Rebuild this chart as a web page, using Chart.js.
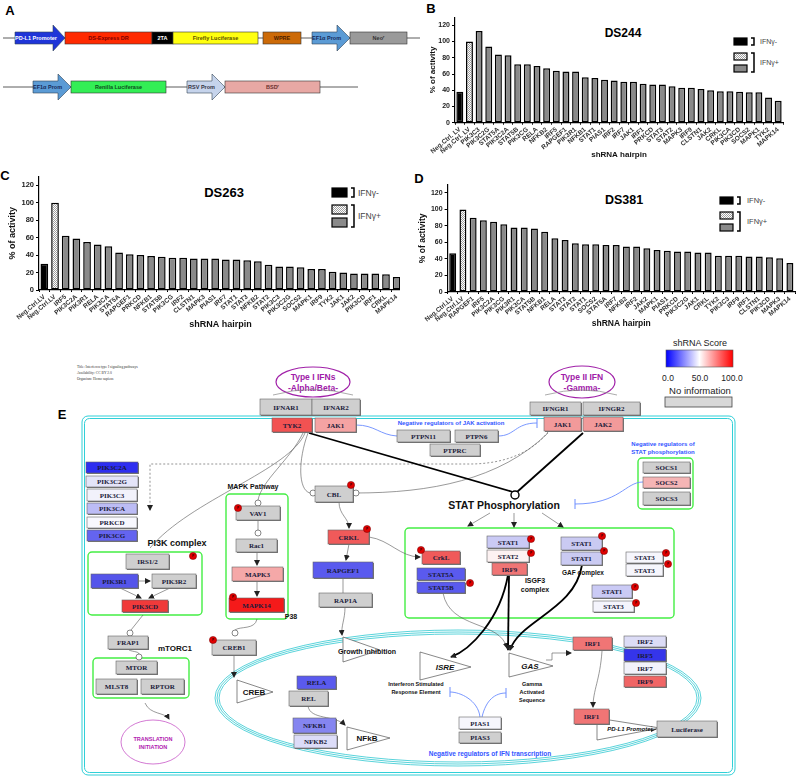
<!DOCTYPE html>
<html>
<head>
<meta charset="utf-8">
<script src="https://cdn.jsdelivr.net/npm/chart.js@4.4.0/dist/chart.umd.min.js"></script>
<style>
  body { margin: 0; width: 800px; height: 779px; position: relative; overflow: hidden; background: #fff; }
  .abs { position: absolute; }
</style>
</head>
<body>
<svg id="fig" class="abs" style="left:0;top:0" width="800" height="779"></svg>
<div class="abs" style="left:400px;top:0;width:400px;height:165px"><canvas id="chartB" width="400" height="165"></canvas></div>
<div class="abs" style="left:0;top:170px;width:400px;height:160px;overflow:hidden"><canvas id="chartC" width="404" height="160"></canvas></div>
<div class="abs" style="left:400px;top:170px;width:400px;height:160px"><canvas id="chartD" width="400" height="160"></canvas></div>
<script>
'use strict';

// ---- chart data ----
var labelsB = ['Neg.Ctrl. LV', 'Neg.Ctrl. LV', 'PIK3C3', 'PIK3C2G', 'STAT5A', 'PIK3C2A', 'STAT5B', 'PIK3CG',
  'RELA', 'NFKB2', 'IRF5', 'RAPGEF1', 'PIK3R1', 'NFKB1', 'STAT1', 'PIAS1', 'IRF2', 'IRF7', 'JAK1', 'IRF1',
  'PRKCD', 'STAT3', 'STAT2', 'MAPK3', 'IRF9', 'CLSTN1', 'JAK2', 'CRKL', 'PIK3CA', 'PIK3CD', 'SOCS2',
  'MAPK1', 'TYK2', 'MAPK14'];
var valuesB = [38, 100, 113, 94, 84, 83, 72, 72, 70, 67, 64, 63, 63, 56, 55, 53, 52, 50.5, 50.5, 48,
  47, 47, 45, 43, 43, 41.5, 40, 38.6, 38.6, 38, 37.5, 37.5, 31, 27];

var labelsC = ['Neg.Ctrl.LV', 'Neg.Ctrl.LV', 'IRF5', 'PIK3C2A', 'PIK3R1', 'RELA', 'PIK3CA', 'STAT5A',
  'RAPGEF1', 'PRKCD', 'NFKB1', 'STAT5B', 'PIK3CG', 'IRF2', 'CLSTN1', 'MAPK3', 'PIAS1', 'IRF7', 'STAT1',
  'STAT3', 'NFKB2', 'STAT2', 'PIK3C3', 'PIK3C2G', 'SOCS2', 'MAPK1', 'IRF9', 'TYK2', 'JAK1', 'JAK2',
  'PIK3CD', 'IRF1', 'CRKL', 'MAPK14'];
var valuesC = [30, 100, 62, 59, 55, 52, 50, 43, 41, 40, 39, 38, 37, 37, 36, 36, 36, 35, 35, 34, 33,
  29, 27, 27, 26, 24, 24, 21, 20, 19, 19, 19, 18, 15];

var labelsD = ['Neg.Ctrl.LV', 'Neg.Ctrl.LV', 'RAPGEF1', 'IRF5', 'PIK3C2A', 'PIK3CG', 'PIK3R1', 'PIK3CA',
  'STAT5B', 'NFKB1', 'RELA', 'STAT3', 'STAT2', 'STAT1', 'SOCS2', 'STAT5A', 'IRF7', 'NFKB2', 'IRF2',
  'JAK2', 'MAPK1', 'PIAS1', 'PRKCD', 'PIK3C2G', 'JAK1', 'CRKL', 'TYK2', 'PIK3C3', 'IRF9', 'IRF1',
  'CLSTN1', 'PIK3CD', 'MAPK3', 'MAPK14'];
var valuesD = [47, 100, 90, 87, 85, 82, 78, 78, 77, 73, 65, 63, 59, 58, 58, 57, 57, 55, 55, 53, 51,
  50, 49, 49, 48, 48, 44, 44, 44, 43, 43, 42, 41, 35];

var yMin = 0, yMax = 130, yStep = 20;

Chart.defaults.font.family = 'Arial, "Liberation Sans", sans-serif';

var checkerFor = function(ctx) {
  var pc = document.createElement('canvas');
  pc.width = 2; pc.height = 2;
  var p = pc.getContext('2d');
  p.fillStyle = '#fff'; p.fillRect(0, 0, 2, 2);
  p.fillStyle = '#a0a0a0'; p.fillRect(0, 0, 1, 1); p.fillRect(1, 1, 1, 1);
  return ctx.createPattern(pc, 'repeat');
};

var buildChart = function(id, labels, values, cfg) {
  var ctx = document.getElementById(id).getContext('2d');
  var checker = checkerFor(ctx);
  var colours = labels.map(function(l, i) {
    return i === 0 ? '#000' : (i === 1 ? checker : '#8a8a8a');
  });
  return new Chart(ctx, {
    type: 'bar',
    data: {
      labels: labels,
      datasets: [{
        data: values,
        backgroundColor: colours,
        borderColor: '#000',
        borderWidth: 1.5,
        borderSkipped: false,
        barPercentage: cfg.barPct,
        categoryPercentage: 1
      }]
    },
    options: {
      responsive: false,
      animation: false,
      layout: { padding: { top: cfg.top, right: cfg.right, bottom: 0, left: 0 } },
      plugins: { legend: { display: false }, tooltip: { enabled: false } },
      scales: {
        x: {
          grid: { display: true, drawOnChartArea: false, color: '#000', tickLength: 2 },
          border: { color: '#000', width: 1.2 },
          ticks: { autoSkip: false, minRotation: 40, maxRotation: 40, padding: 1, color: '#333',
                   font: { size: 6.5, weight: 'bold' } },
          title: { display: true, text: 'shRNA hairpin', color: '#111',
                   font: { size: cfg.axisFont, weight: 'bold' }, padding: { top: 0, bottom: cfg.xTitlePad } },
          afterFit: function(s) { s.height = cfg.xHeight; }
        },
        y: {
          min: yMin, max: yMax,
          grid: { display: true, drawOnChartArea: false, color: '#000', tickLength: 3 },
          border: { color: '#000', width: 1.2 },
          ticks: { stepSize: yStep, includeBounds: false, padding: 2, color: '#222',
                   font: { size: cfg.tickFont, weight: 'bold' } },
          title: { display: true, text: '% of activity', color: '#111',
                   font: { size: cfg.axisFont, weight: 'bold' }, padding: { top: cfg.yTitlePad, bottom: 0 } },
          afterFit: function(s) { s.width = cfg.yWidth; }
        }
      }
    }
  });
};

buildChart('chartB', labelsB, valuesB, { top: 17.2, right: 17, xHeight: 42.3, yWidth: 55, xTitlePad: 5,
  yTitlePad: 28, axisFont: 8, tickFont: 7, barPct: 0.72 });
buildChart('chartC', labelsC, valuesC, { top: 5.2, right: 2, xHeight: 40, yWidth: 39, xTitlePad: 0,
  yTitlePad: 7, axisFont: 9, tickFont: 7.5, barPct: 0.72 });
buildChart('chartD', labelsD, valuesD, { top: 14.7, right: 5, xHeight: 38, yWidth: 47.6, xTitlePad: 1,
  yTitlePad: 18, axisFont: 8.5, tickFont: 7, barPct: 0.68 });

// ---- drawing helpers for the schematic panels ----
var svg = document.getElementById('fig');
var NS = 'http://www.w3.org/2000/svg';
var SANS = 'Arial, "Liberation Sans", sans-serif';
var SERIF = '"Liberation Serif", "DejaVu Serif", serif';

var el = function(tag, attrs, txt, parent) {
  var e = document.createElementNS(NS, tag);
  for (var k in attrs) e.setAttribute(k, attrs[k]);
  if (txt != null) e.textContent = txt;
  (parent || svg).appendChild(e);
  return e;
};
var text = function(x, y, s, size, opt) {
  opt = opt || {};
  return el('text', { x: x, y: y, 'font-size': size, 'font-family': opt.serif ? SERIF : SANS,
    'font-weight': opt.weight || 'bold', 'font-style': opt.italic ? 'italic' : 'normal',
    fill: opt.fill || '#000', 'text-anchor': opt.anchor || 'middle', 'dominant-baseline': 'central' }, s);
};

var defs = el('defs', {});
var pat = el('pattern', { id: 'chk', width: 2, height: 2, patternUnits: 'userSpaceOnUse' }, null, defs);
el('rect', { width: 2, height: 2, fill: '#fff' }, null, pat);
el('rect', { width: 1, height: 1, fill: '#a0a0a0' }, null, pat);
el('rect', { x: 1, y: 1, width: 1, height: 1, fill: '#a0a0a0' }, null, pat);
var grad = el('linearGradient', { id: 'score' }, null, defs);
el('stop', { offset: '0', 'stop-color': '#0000ff' }, null, grad);
el('stop', { offset: '0.5', 'stop-color': '#ffffff' }, null, grad);
el('stop', { offset: '1', 'stop-color': '#ff0000' }, null, grad);
var mk = el('marker', { id: 'arr', markerWidth: 6, markerHeight: 6, refX: 5, refY: 3, orient: 'auto',
  markerUnits: 'userSpaceOnUse' }, null, defs);
el('path', { d: 'M0,0 L6,3 L0,6 z', fill: '#222' }, null, mk);

// panel letters
text(10, 10, 'A', 13);
text(431, 8, 'B', 13);
text(5, 175, 'C', 13);
text(419, 178, 'D', 13);
text(62, 414, 'E', 13);

// chart titles and bracket legends
text(623, 33, 'DS244', 12);
text(224, 192, 'DS263', 13);
text(624, 200, 'DS381', 12.5);

var legend = function(x, y, w, h, g1, g2, tx, fs) {
  el('rect', { x: x, y: y, width: w, height: h, fill: '#000', stroke: '#000', 'stroke-width': 1.2 });
  el('rect', { x: x, y: y + g1, width: w, height: h, fill: 'url(#chk)', stroke: '#000', 'stroke-width': 1.2 });
  el('rect', { x: x, y: y + g2, width: w, height: h, fill: '#8a8a8a', stroke: '#000', 'stroke-width': 1.2 });
  var bx = x + w + 4;
  el('path', { d: 'M' + bx + ',' + y + ' h3 v' + h + ' h-3', fill: 'none', stroke: '#000', 'stroke-width': 1.5 });
  el('path', { d: 'M' + bx + ',' + (y + g1) + ' h3 v' + (g2 + h - g1) + ' h-3', fill: 'none', stroke: '#000', 'stroke-width': 1.5 });
  text(tx, y + h / 2, 'IFNγ-', fs, { weight: 'normal', fill: '#444', anchor: 'start' });
  text(tx, y + (g1 + g2 + h) / 2, 'IFNγ+', fs, { weight: 'normal', fill: '#444', anchor: 'start' });
};
legend(734, 38, 13, 7, 15, 27, 760, 7);
legend(332, 188, 15, 9, 17, 30, 358, 8.5);
legend(720, 197, 13, 7, 15, 27, 747, 7.5);

// ---- panel A: constructs ----
el('line', { x1: 3, y1: 38, x2: 420, y2: 38, stroke: '#333', 'stroke-width': 0.8 });
el('line', { x1: 3, y1: 87, x2: 358, y2: 87, stroke: '#333', 'stroke-width': 0.8 });
var promoter = function(x1, xh, x2, yc, fill, label, tcol) {
  el('path', { d: 'M' + x1 + ',' + (yc - 6) + ' H' + xh + ' V' + (yc - 13) + ' L' + x2 + ',' + yc + ' L' + xh + ',' +
    (yc + 13) + ' V' + (yc + 6) + ' H' + x1 + ' z', fill: fill, stroke: '#345', 'stroke-width': 0.6 });
  text((x1 + xh) / 2 + 2, yc, label, 5.5, { fill: tcol });
};
var segment = function(x1, x2, yc, fill, label, tcol) {
  el('rect', { x: x1, y: yc - 6, width: x2 - x1, height: 12, fill: fill, stroke: '#333', 'stroke-width': 0.6 });
  text((x1 + x2) / 2, yc, label, 5.5, { fill: tcol });
};
promoter(15, 53, 65, 38, '#1f35d8', 'PD-L1 Promoter', '#fff');
segment(65, 152, 38, '#ff2a00', 'DS-Express DR', '#7a0000');
segment(152, 173, 38, '#000', '2TA', '#fff');
segment(173, 258, 38, '#ffff10', 'Firefly Luciferase', '#5a5000');
segment(263, 301, 38, '#cc6a08', 'WPRE', '#4a2000');
promoter(312, 337, 350, 38, '#5b9bd5', 'EF1α Prom', '#15295a');
segment(350, 407, 38, '#9a9a9a', 'Neoʳ', '#333');
promoter(33, 58, 71, 87, '#5b9bd5', 'EF1α Prom', '#15295a');
segment(71, 166, 87, '#33ee55', 'Renilla Luciferase', '#0d4d1d');
promoter(187, 212, 225, 87, '#c6d4ec', 'RSV Prom', '#334');
segment(225, 320, 87, '#e8a8a4', 'BSDʳ', '#6a3030');

// ---- panel E: pathway ----
text(77, 367, 'Title:   Interferon type I signaling pathways', 3.6, { serif: true, weight: 'normal', anchor: 'start', fill: '#333' });
text(77, 373, 'Availability:   CC BY 2.0', 3.6, { serif: true, weight: 'normal', anchor: 'start', fill: '#333' });
text(77, 379, 'Organism:   Homo sapiens', 3.6, { serif: true, weight: 'normal', anchor: 'start', fill: '#333' });

// score legend
text(700, 343, 'shRNA Score', 9, { weight: 'normal', fill: '#222' });
el('rect', { x: 666, y: 350, width: 67, height: 17, fill: 'url(#score)', stroke: '#555', 'stroke-width': 0.6 });
text(668, 378, '0.0', 8.5, { weight: 'normal', fill: '#222' });
text(700, 378, '50.0', 8.5, { weight: 'normal', fill: '#222' });
text(732, 378, '100.0', 8.5, { weight: 'normal', fill: '#222' });
text(700, 390, 'No information', 9.5, { weight: 'normal', fill: '#222' });
el('rect', { x: 665, y: 397, width: 67, height: 10, fill: '#d8d8d8', stroke: '#444', 'stroke-width': 0.8 });

// cell outline and nucleus
el('rect', { x: 82, y: 416, width: 653, height: 359, rx: 6, fill: 'none', stroke: '#30d0d8', 'stroke-width': 1 });
el('rect', { x: 84.5, y: 418.5, width: 648, height: 354, rx: 5, fill: 'none', stroke: '#30d0d8', 'stroke-width': 1 });
[0, 2, 4].forEach(function(d) {
  el('ellipse', { cx: 458, cy: 698, rx: 243 - d, ry: 68 - d, fill: 'none', stroke: '#30c8d0', 'stroke-width': 0.8 });
});

// ligand ellipses
el('ellipse', { cx: 313, cy: 382, rx: 37, ry: 15, fill: '#fff', stroke: '#a020a8', 'stroke-width': 1.2 });
text(313, 377, 'Type I IFNs', 8.5, { fill: '#a020a8' });
text(313, 388, '-Alpha/Beta-', 8.5, { fill: '#a020a8' });
el('path', { d: 'M273,395 Q313,384 353,395', fill: 'none', stroke: '#888', 'stroke-width': 0.7 });
el('ellipse', { cx: 582, cy: 382, rx: 33, ry: 16, fill: '#fff', stroke: '#a020a8', 'stroke-width': 1.2 });
text(582, 377, 'Type II IFN', 8.5, { fill: '#a020a8' });
text(582, 388, '-Gamma-', 8.5, { fill: '#a020a8' });
el('path', { d: 'M545,395 Q582,385 617,395', fill: 'none', stroke: '#888', 'stroke-width': 0.7 });

// green complexes
[[88, 552, 202, 615], [93, 658, 189, 698], [226, 494, 288, 619], [405, 528, 674, 618], [638, 458, 693, 509]]
  .forEach(function(g) {
    el('rect', { x: g[0], y: g[1], width: g[2] - g[0], height: g[3] - g[1], rx: 4, fill: 'none',
      stroke: '#44ee44', 'stroke-width': 1.4 });
  });

// connectors
var link = function(d, kind, arrow) {
  var st = { thin: ['#555', 0.6, null], thick: ['#000', 1.8, null], blue: ['#6b8cff', 0.9, null],
    dash: ['#666', 0.7, '2,2'] }[kind];
  var a = { d: d, fill: 'none', stroke: st[0], 'stroke-width': st[1] };
  if (st[2]) a['stroke-dasharray'] = st[2];
  if (arrow) a['marker-end'] = 'url(#arr)';
  return el('path', a);
};
var ring = function(x, y) { el('circle', { cx: x, cy: y, r: 3, fill: '#fff', stroke: '#555', 'stroke-width': 0.7 }); };
var bar = function(x, y) { el('line', { x1: x, y1: y - 5, x2: x, y2: y + 5, stroke: '#6b8cff', 'stroke-width': 1 }); };

link('M305,433 C290,470 190,500 150,548', 'thin');
link('M303,433 C290,460 262,480 258,500', 'thin');
link('M308,433 C298,460 298,490 310,493', 'thin');
link('M355,493 C430,493 500,480 548,433', 'thin');
link('M548,432 C530,455 500,464 470,464 L150,464 L150,510', 'dash', true);
link('M309,433 L513,492', 'thick');
link('M583,433 L517,492', 'thick');
el('circle', { cx: 515, cy: 495, r: 4, fill: '#fff', stroke: '#000', 'stroke-width': 1.4 });
link('M356,425 C375,425 380,435 397,436', 'blue');
link('M498,436 C515,436 515,423 537,423', 'blue'); bar(537, 423);
link('M643,482 C625,482 620,504 575,504', 'blue'); bar(575, 504);
link('M490,513 L468,526', 'thin', true);
link('M514,513 L514,527', 'thin', true);
link('M542,513 L563,527', 'thin', true);
link('M443,593 C450,630 500,620 507,648', 'thin', true);
link('M509,575 L508,650', 'thick', true);
link('M508,575 C500,620 470,650 451,657', 'thick', true);
link('M582,565 C575,610 520,620 510,650', 'thick', true);
link('M546,660 L552,660 L552,653 L571,653', 'thin', true);
link('M602,651 C600,680 593,690 593,707', 'thin', true);
link('M640,729 L656,729', 'thin', true);
link('M480,717 C478,700 460,692 450,692', 'blue'); bar(450, 692);
link('M482,717 C486,700 495,693 506,693', 'blue'); bar(506, 693);
link('M339,502 C339,515 349,518 349,528', 'thin', true);
link('M349,544 L346,560', 'thin', true);
link('M343,578 L343,593', 'thin');
link('M345,607 C345,620 341,625 342,635', 'thin', true);
link('M369,537 C390,540 400,557 420,557', 'thin', true);
link('M258,520 L258,530', 'thin'); ring(258, 533);
ring(258, 503); ring(313, 493); ring(356, 493);
link('M257,552 L257,565', 'thin', true);
link('M257,581 L257,596', 'thin', true);
link('M257,619 C255,630 240,626 235,630', 'thin'); ring(235, 633);
link('M234,655 L234,677', 'thin', true);
link('M138,581 L150,581', 'thin', true);
link('M120,588 L141,598', 'thin', true);
link('M170,588 L149,598', 'thin', true);
link('M143,615 L131,630', 'thin'); ring(130, 633);
link('M128,649 C130,652 139,651 139,654', 'thin'); ring(139, 657);
link('M145,703 C150,715 165,712 169,719', 'thin', true);
link('M308,706 C310,720 335,715 345,725', 'thin', true);

// promoter / response element triangles
var tri = function(pts, label, lx, ly, size, italic) {
  el('polygon', { points: pts, fill: '#fff', stroke: '#555', 'stroke-width': 0.7 });
  text(lx, ly, label, size, { italic: italic, fill: '#111' });
};
tri('237,680 237,703 273,692', 'CREB', 254, 692, 8);
tri('343,637 343,662 380,650', 'Growth Inhibition', 367, 651, 7);
tri('420,652 420,680 471,667', 'ISRE', 445, 667, 8, true);
tri('509,653 509,677 553,666', 'GAS', 530, 666, 8, true);
tri('347,727 347,750 390,738', 'NFkB', 367, 738, 8);
tri('597,718 597,740 660,728', 'PD-L1 Promoter', 630, 729, 6, true);

// gene boxes coloured by shRNA score
var GREY = '#cfcfcf';
var boxes = [
  ['IFNAR1', 260, 399, 312, 415, GREY], ['IFNAR2', 312, 399, 360, 415, GREY],
  ['TYK2', 272, 418, 312, 432, '#f25252'], ['JAK1', 315, 418, 356, 432, '#f5a3a3'],
  ['PTPN11', 397, 430, 450, 442, GREY], ['PTPN6', 455, 430, 498, 442, GREY], ['PTPRC', 430, 444, 480, 456, GREY],
  ['IFNGR1', 530, 402, 581, 415, GREY], ['IFNGR2', 583, 402, 640, 415, GREY],
  ['JAK1', 544, 417, 581, 431, '#f29a9a'], ['JAK2', 583, 417, 623, 431, '#f29a9a'],
  ['SOCS1', 643, 462, 690, 473, GREY], ['SOCS2', 643, 477, 690, 488, '#f5b5b5'], ['SOCS3', 643, 492, 690, 505, GREY],
  ['PIK3C2A', 86, 462, 138, 473, '#2e2ef0'], ['PIK3C2G', 86, 476, 138, 487, '#e4e4f8'],
  ['PIK3C3', 87, 489, 137, 501, '#f2f2fb'], ['PIK3CA', 87, 503, 137, 514, '#bcbcf5'],
  ['PRKCD', 87, 517, 137, 528, '#f8f8fe'], ['PIK3CG', 87, 530, 137, 541, '#6464f0'],
  ['IRS1/2', 126, 554, 169, 569, GREY], ['PIK3R1', 91, 574, 138, 588, '#5555ea'],
  ['PIK3R2', 152, 574, 196, 588, GREY], ['PIK3CD', 122, 600, 168, 612, '#f03a3a'],
  ['FRAP1', 108, 636, 148, 649, GREY], ['MTOR', 116, 661, 157, 674, GREY],
  ['MLST8', 96, 679, 137, 694, GREY], ['RPTOR', 141, 679, 184, 694, GREY],
  ['VAV1', 236, 506, 280, 520, GREY], ['Rac1', 236, 539, 277, 552, GREY],
  ['MAPK3', 232, 567, 283, 581, '#f5a8a8'], ['MAPK14', 229, 598, 284, 612, '#f51a1a'],
  ['CREB1', 212, 640, 256, 655, GREY], ['CBL', 315, 486, 353, 502, GREY],
  ['CRKL', 328, 530, 369, 544, '#f05a5a'], ['RAPGEF1', 313, 562, 373, 578, '#5a5aee'],
  ['RAP1A', 319, 593, 372, 607, GREY],
  ['CrkL', 422, 551, 460, 564, '#f05a5a'], ['STAT5A', 417, 568, 465, 580, '#5a5aee'],
  ['STAT5B', 417, 582, 465, 593, '#5a5aee'],
  ['STAT1', 487, 536, 529, 548, '#cacaf5'], ['STAT2', 487, 550, 529, 562, '#fdf2f2'],
  ['IRF9', 492, 563, 527, 575, '#f07575'],
  ['STAT1', 561, 537, 602, 550, '#cacaf2'], ['STAT1', 561, 552, 602, 565, '#cacaf2'],
  ['STAT3', 626, 552, 663, 563, '#f6f6fc'], ['STAT3', 626, 564, 663, 576, '#f6f6fc'],
  ['STAT1', 592, 585, 632, 598, '#cacaf5'], ['STAT3', 593, 601, 634, 612, '#f4f4fc'],
  ['IRF1', 573, 637, 612, 650, '#f07575'], ['IRF2', 624, 636, 666, 647, '#dcdcf6'],
  ['IRF5', 624, 649, 666, 661, '#3535ea'], ['IRF7', 624, 662, 666, 674, '#f2f2fb'],
  ['IRF9', 624, 676, 666, 687, '#f06565'], ['IRF1', 574, 709, 609, 724, '#f07575'],
  ['Luciferase', 657, 721, 717, 737, GREY],
  ['PIAS1', 459, 717, 501, 729, '#f6f6fc'], ['PIAS3', 459, 732, 501, 743, GREY],
  ['RELA', 297, 676, 336, 689, '#5a5aee'], ['REL', 289, 691, 328, 706, GREY],
  ['NFKB1', 293, 718, 336, 733, '#8585f0'], ['NFKB2', 294, 735, 337, 748, '#dcdcf8']
];
boxes.forEach(function(b) {
  el('rect', { x: b[1] + 1, y: b[2] + 1, width: b[3] - b[1], height: b[4] - b[2], fill: '#777' });
  el('rect', { x: b[1], y: b[2], width: b[3] - b[1], height: b[4] - b[2], fill: b[5], stroke: '#666', 'stroke-width': 0.6 });
  text((b[1] + b[3]) / 2, (b[2] + b[4]) / 2 + 0.5, b[0], 7, { serif: true, fill: '#1a1a3a' });
});

// phosphorylation markers
[[193, 556], [238, 508], [233, 597], [213, 640], [351, 485], [367, 529], [421, 550], [470, 583], [531, 539],
 [531, 553], [602, 536], [604, 551], [666, 553], [668, 564], [635, 587], [636, 603]].forEach(function(p) {
  el('circle', { cx: p[0], cy: p[1], r: 3.6, fill: '#e00000', stroke: '#700', 'stroke-width': 0.5 });
  text(p[0], p[1], 'P', 3, { fill: '#300' });
});

// pathway annotations
text(451, 423, 'Negative regulators of JAK activation', 6, { fill: '#3355ff' });
text(663, 444, 'Negative regulators of', 6, { fill: '#3355ff' });
text(663, 452, 'STAT phosphorylation', 6, { fill: '#3355ff' });
text(504, 505, 'STAT Phosphorylation', 10.5, { fill: '#111' });
text(253, 486, 'MAPK Pathway', 7, { fill: '#111' });
text(177, 543, 'PI3K complex', 9, { fill: '#111' });
text(175, 648, 'mTORC1', 8, { fill: '#111' });
text(291, 616, 'P38', 7, { fill: '#111' });
el('ellipse', { cx: 153, cy: 742, rx: 32, ry: 22, fill: 'none', stroke: '#c040c0', 'stroke-width': 0.7 });
text(153, 739, 'TRANSLATION', 5.5, { fill: '#b020b0' });
text(153, 747, 'INITIATION', 5.5, { fill: '#b020b0' });
text(535, 580, 'ISGF3', 7, { fill: '#111' });
text(535, 589, 'complex', 7, { fill: '#111' });
text(583, 572, 'GAF complex', 6.5, { fill: '#111' });
text(416, 684, 'Interferon Stimulated', 5.5, { fill: '#111' });
text(416, 692, 'Response Element', 5.5, { fill: '#111' });
text(532, 684, 'Gamma', 5.5, { fill: '#111' });
text(532, 692, 'Activated', 5.5, { fill: '#111' });
text(532, 700, 'Sequence', 5.5, { fill: '#111' });
text(490, 753, 'Negative regulators of IFN transcription', 6.5, { fill: '#3355ff' });
</script>
</body>
</html>
